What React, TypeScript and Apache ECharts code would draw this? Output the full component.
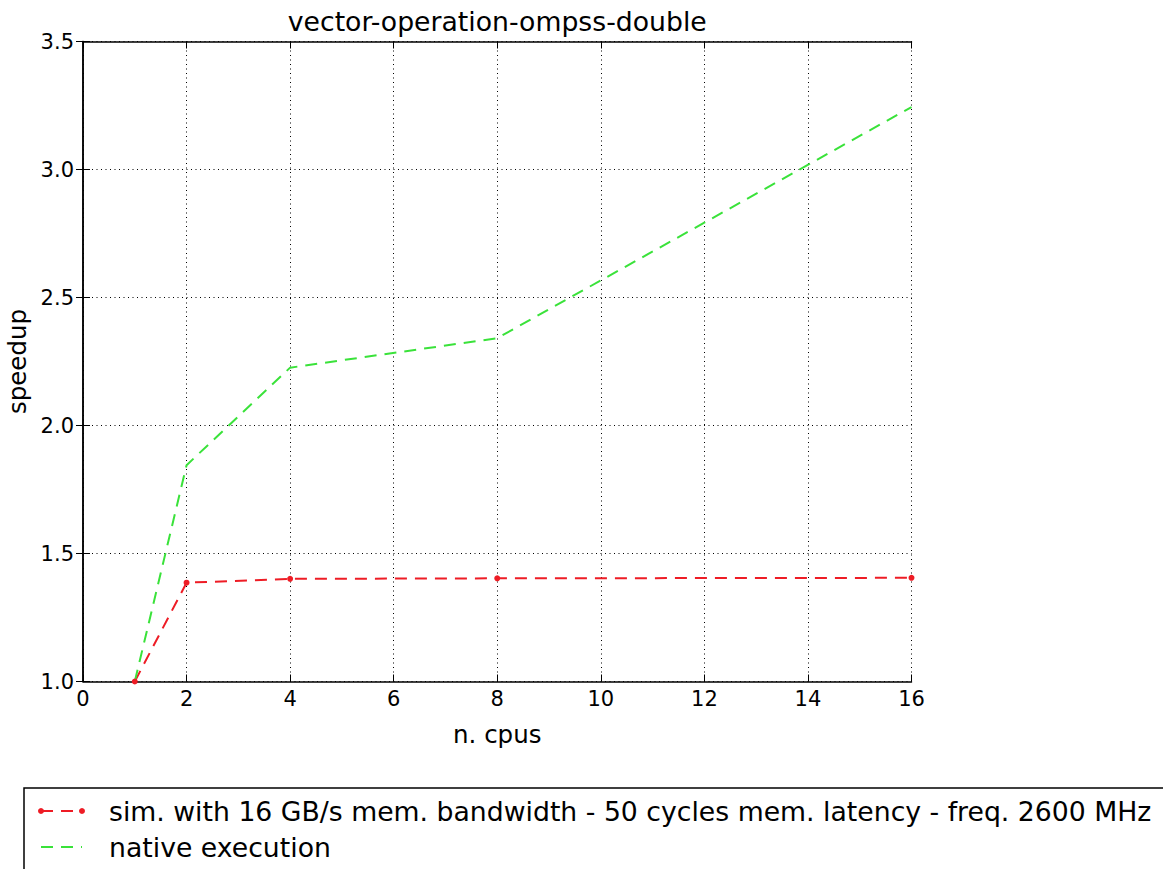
import React, { useEffect, useRef } from "react";
import * as echarts from "echarts";

const titleText = "vector-operation-ompss-double";
const xName = "n. cpus";
const yName = "speedup";
const cpus = [1, 2, 4, 8, 16];
const simSpeedup = [1.0, 1.386, 1.401, 1.403, 1.405];
const nativeSpeedup = [1.0, 1.845, 2.226, 2.341, 3.244];
const simLabel = "sim. with 16 GB/s mem. bandwidth - 50 cycles mem. latency - freq. 2600 MHz";
const nativeLabel = "native execution";

const FONT = "DejaVu Sans";
const RED = "#ee1c25";
const GREEN = "#3ae23a";

export default function App() {
  const ref = useRef<HTMLDivElement>(null);
  useEffect(() => {
    if (!ref.current) return;
    const chart = echarts.init(ref.current, undefined, { renderer: "svg" });
    const gridL = 83, gridT = 41.5, gridR = 911.5, gridB = 681.5;
    const W = 1163, H = 869;
    const axisCommon = {
      type: "value" as const,
      axisLine: { show: true, lineStyle: { color: "#000", width: 1.5 } },
      axisTick: { show: true, inside: true, length: 7, lineStyle: { color: "#000", width: 1 } },
    };
    chart.setOption({
      animation: false,
      backgroundColor: "#fff",
      textStyle: { fontFamily: FONT },
      title: {
        text: titleText,
        left: (gridL + gridR) / 2,
        textAlign: "center",
        top: 8,
        padding: 0,
        textStyle: { fontFamily: FONT, fontSize: 26.7, fontWeight: "normal", color: "#000" },
      },
      grid: {
        left: gridL,
        top: gridT,
        right: W - gridR,
        bottom: H - gridB,
        containLabel: false,
        outerBoundsMode: "none",
      },
      xAxis: [
        {
          ...axisCommon,
          min: 0,
          max: 16,
          interval: 2,
          position: "bottom",
          name: xName,
          nameLocation: "middle",
          nameGap: 40,
          nameTextStyle: { fontFamily: FONT, fontSize: 24.5, color: "#000" },
          axisLabel: { fontFamily: FONT, fontSize: 21, color: "#000", margin: 7 },
          splitLine: { show: true, lineStyle: { color: "#000", width: 1, type: [1, 3.5] } },
        },
        {
          ...axisCommon,
          min: 0,
          max: 16,
          interval: 2,
          position: "top",
          axisLabel: { show: false },
          splitLine: { show: false },
        },
      ],
      yAxis: [
        {
          ...axisCommon,
          min: 1,
          max: 3.5,
          interval: 0.5,
          position: "left",
          name: yName,
          nameLocation: "middle",
          nameRotate: 90,
          nameGap: 52,
          nameTextStyle: { fontFamily: FONT, fontSize: 24.5, color: "#000" },
          axisLabel: {
            fontFamily: FONT,
            fontSize: 21,
            color: "#000",
            margin: 9,
            formatter: (v: number) => v.toFixed(1),
          },
          splitLine: { show: true, lineStyle: { color: "#000", width: 1, type: [1, 3.5] } },
        },
        {
          ...axisCommon,
          min: 1,
          max: 3.5,
          interval: 0.5,
          position: "right",
          axisLabel: { show: false },
          splitLine: { show: false },
        },
      ],
      series: [
        {
          name: simLabel,
          type: "line",
          data: cpus.map((c, i) => [c, simSpeedup[i]]),
          symbol: "circle",
          symbolSize: 6,
          clip: true,
          lineStyle: { color: RED, width: 2, type: [12, 8] },
          itemStyle: { color: RED },
        },
        {
          name: nativeLabel,
          type: "line",
          data: cpus.map((c, i) => [c, nativeSpeedup[i]]),
          symbol: "none",
          clip: true,
          lineStyle: { color: GREEN, width: 2, type: [12, 8] },
          itemStyle: { color: GREEN },
        },
      ],
      graphic: [
        {
          type: "rect",
          shape: { x: 24, y: 788, width: 1200, height: 120 },
          style: { fill: "#fff", stroke: "#000", lineWidth: 1.5 },
        },
        {
          type: "line",
          shape: { x1: 41, y1: 811, x2: 82, y2: 811 },
          style: { stroke: RED, lineWidth: 2, lineDash: [12, 8] },
        },
        { type: "circle", shape: { cx: 41, cy: 811, r: 3 }, style: { fill: RED } },
        { type: "circle", shape: { cx: 82, cy: 811, r: 3 }, style: { fill: RED } },
        {
          type: "text",
          x: 109,
          y: 811,
          style: { text: simLabel, fontFamily: FONT, fontSize: 26.7, fill: "#000", verticalAlign: "middle" },
        },
        {
          type: "line",
          shape: { x1: 41, y1: 847, x2: 82, y2: 847 },
          style: { stroke: GREEN, lineWidth: 2, lineDash: [12, 8] },
        },
        {
          type: "text",
          x: 109,
          y: 847,
          style: { text: nativeLabel, fontFamily: FONT, fontSize: 26.7, fill: "#000", verticalAlign: "middle" },
        },
      ],
    });
    return () => chart.dispose();
  }, []);
  return (
    <div
      ref={ref}
      style={{ position: "fixed", left: 0, top: 0, width: 1163, height: 869, background: "#fff" }}
    />
  );
}
